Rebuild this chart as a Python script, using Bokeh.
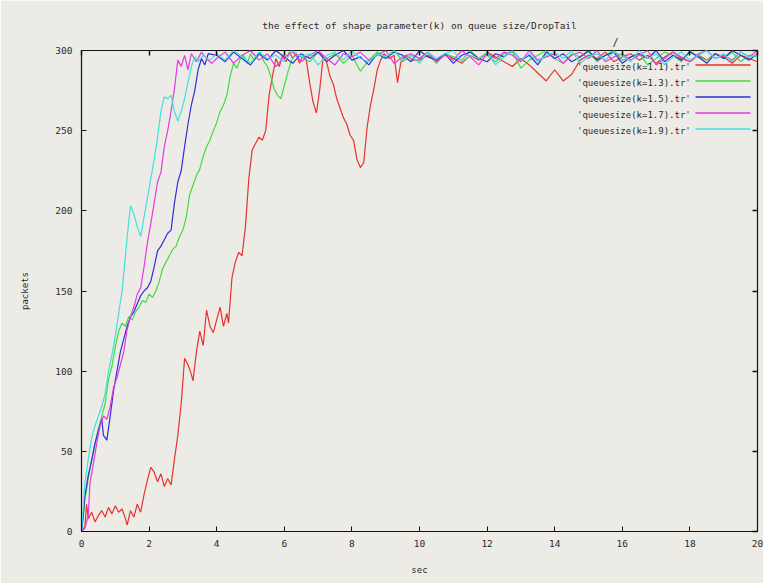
from bokeh.plotting import figure
from bokeh.models import (Range1d, FixedTicker, LinearAxis, Arrow, Legend, Title,
                          LegendItem, ColumnDataSource)
from bokeh.embed import file_html
from bokeh.resources import INLINE

TITLE = "the effect of shape parameter(k) on queue size/DropTail"
X_LABEL = "sec"
Y_LABEL = "packets"
X_TICKS = [0, 2, 4, 6, 8, 10, 12, 14, 16, 18, 20]
Y_TICKS = [0, 50, 100, 150, 200, 250, 300]
SERIES_LABELS = ["'queuesize(k=1.1).tr'", "'queuesize(k=1.3).tr'",
                 "'queuesize(k=1.5).tr'", "'queuesize(k=1.7).tr'",
                 "'queuesize(k=1.9).tr'"]
COLORS = ["#e8322d", "#3fdc3f", "#2f2fd8", "#e23ae2", "#3fe0e0"]

# ---- k=1.1 (red) ----
red_t = [0.0, 0.1, 0.15, 0.2, 0.3, 0.4, 0.5, 0.6, 0.7, 0.8,
         0.9, 1.0, 1.1, 1.2, 1.3, 1.35, 1.45, 1.55, 1.65, 1.75,
         1.85, 1.95, 2.05, 2.15, 2.25, 2.35, 2.45, 2.55, 2.65, 2.75,
         2.85, 2.95, 3.05, 3.15, 3.25, 3.3, 3.4, 3.5, 3.6, 3.7,
         3.8, 3.9, 4.0, 4.1, 4.2, 4.3, 4.35, 4.45, 4.55, 4.65,
         4.75, 4.85, 4.95, 5.05, 5.15, 5.25, 5.35, 5.45, 5.55, 5.65,
         5.75, 5.85, 5.95, 6.05, 6.15, 6.25, 6.35, 6.45, 6.55, 6.65,
         6.75, 6.85, 6.95, 7.05, 7.15, 7.25, 7.35, 7.45, 7.55, 7.65,
         7.75, 7.85, 7.95, 8.05, 8.15, 8.25, 8.35, 8.45, 8.55, 8.65,
         8.75, 8.85, 8.95, 9.1, 9.25, 9.35, 9.45, 9.6, 9.8]
red_y = [0, 3, 17, 8, 12, 6, 10, 13, 9, 15,
         11, 16, 12, 14, 8, 4, 13, 9, 17, 12,
         23, 32, 40, 37, 31, 36, 28, 33, 29, 45,
         60, 80, 108, 104, 98, 94, 112, 125, 116, 138,
         128, 124, 132, 140, 128, 136, 130, 158, 168, 174,
         172, 190, 220, 238, 242, 246, 244, 250, 272, 284,
         295, 290, 297, 293, 299, 295, 298, 292, 297, 294,
         280, 268, 261, 276, 296, 293, 284, 279, 270, 264,
         258, 254, 247, 244, 232, 227, 230, 252, 266, 276,
         288, 294, 298, 295, 297, 280, 293, 297, 294]
red_plateau_start = 10.0
red_plateau = [294, 297, 293, 298, 295, 292, 297, 294, 299, 296,
               293, 290, 295, 291, 286, 281, 288, 281, 285, 294,
               297, 295, 299, 293, 296, 298, 294, 297, 292, 296,
               299, 295, 293, 297, 294, 298, 296, 292, 297, 295,
               293]

# ---- k=1.3 (green) ----
green_t = [0.0, 0.05, 0.1, 0.2, 0.3, 0.4, 0.5, 0.6, 0.7, 0.8,
           0.9, 1.0, 1.1, 1.2, 1.3, 1.4, 1.5, 1.6, 1.7, 1.8,
           1.9, 2.0, 2.1, 2.2, 2.3, 2.4, 2.5, 2.6, 2.7, 2.8,
           2.9, 3.0, 3.1, 3.2, 3.3, 3.4, 3.5, 3.6, 3.7, 3.8,
           3.9, 4.0, 4.1, 4.2, 4.3, 4.4, 4.5, 4.6, 4.7, 4.8,
           4.9, 5.0, 5.1, 5.2, 5.3, 5.4, 5.5, 5.6, 5.7, 5.8,
           5.9, 6.0, 6.1, 6.2, 6.3]
green_y = [0, 8, 20, 33, 45, 55, 64, 72, 80, 95,
           103, 115, 125, 130, 128, 134, 132, 137, 140, 144,
           143, 148, 146, 150, 156, 164, 168, 172, 176, 178,
           184, 188, 196, 210, 216, 222, 226, 234, 240, 244,
           250, 255, 262, 266, 272, 284, 292, 289, 295, 297,
           292, 298, 294, 296, 299, 293, 290, 284, 276, 272,
           270, 278, 286, 293, 297]
green_plateau_start = 6.5
green_plateau = [296, 293, 299, 295, 298, 292, 297, 287, 294, 299,
                 296, 300, 293, 297, 295, 299, 292, 298, 296, 294,
                 300, 295, 297, 293, 298, 299, 289, 294, 297, 300,
                 295, 292, 298, 296, 299, 293, 297, 300, 294, 296,
                 298, 291, 295, 299, 297, 293, 300, 296, 294, 298,
                 295, 299, 293, 297, 296]

# ---- k=1.5 (blue) ----
blue_t = [0.0, 0.05, 0.1, 0.2, 0.3, 0.4, 0.5, 0.6, 0.65, 0.75,
          0.85, 0.95, 1.05, 1.15, 1.25, 1.35, 1.45, 1.55, 1.65, 1.75,
          1.85, 1.95, 2.05, 2.15, 2.25, 2.35, 2.45, 2.55, 2.65, 2.75,
          2.85, 2.95, 3.05, 3.15, 3.25, 3.35, 3.45, 3.55, 3.65, 3.75]
blue_y = [0, 10, 22, 35, 44, 55, 63, 70, 60, 57,
          72, 88, 100, 112, 120, 128, 134, 137, 142, 147,
          150, 152, 156, 165, 175, 178, 182, 186, 188, 205,
          218, 225, 240, 254, 266, 275, 288, 295, 291, 298]
blue_plateau_start = 4.0
blue_plateau = [297, 293, 299, 295, 291, 298, 294, 300, 296, 292,
                298, 295, 299, 293, 297, 300, 294, 296, 291, 298,
                295, 299, 297, 293, 300, 296, 294, 298, 292, 297,
                299, 295, 293, 298, 296, 300, 294, 297, 291, 299,
                295, 298, 293, 296, 300, 294, 297, 299, 292, 296,
                298, 295, 300, 293, 297, 294, 299, 296, 292, 298,
                295, 300, 297, 294, 298]

# ---- k=1.7 (magenta) ----
mag_t = [0.0, 0.1, 0.2, 0.25, 0.35, 0.45, 0.55, 0.65, 0.75, 0.85,
         0.95, 1.05, 1.15, 1.25, 1.35, 1.45, 1.55, 1.65, 1.75, 1.85,
         1.95, 2.05, 2.15, 2.25, 2.35, 2.45, 2.55, 2.65, 2.75, 2.85,
         2.95, 3.05, 3.15, 3.25, 3.4, 3.55, 3.7, 3.85]
mag_y = [0, 2, 10, 30, 42, 55, 66, 72, 70, 78,
         90, 96, 104, 112, 126, 134, 140, 148, 152, 165,
         180, 192, 205, 218, 224, 240, 250, 262, 276, 294,
         290, 297, 288, 298, 293, 299, 295, 292]
mag_plateau_start = 4.0
mag_plateau = [295, 299, 292, 297, 300, 294, 298, 290, 296, 299,
               293, 297, 300, 295, 291, 298, 296, 299, 294, 297,
               300, 292, 296, 298, 295, 299, 293, 297, 294, 300,
               296, 291, 298, 295, 299, 297, 293, 300, 294, 296,
               298, 292, 297, 299, 295, 300, 293, 296, 298, 294,
               297, 300, 291, 295, 299, 296, 293, 298, 300, 295,
               297, 294, 299, 296, 300]

# ---- k=1.9 (cyan) ----
cyan_t = [0.0, 0.05, 0.1, 0.2, 0.3, 0.4, 0.5, 0.6, 0.7, 0.8,
          0.9, 1.0, 1.1, 1.2, 1.3, 1.4, 1.45, 1.55, 1.65, 1.75,
          1.85, 1.95, 2.05, 2.15, 2.25, 2.35, 2.45, 2.55, 2.65, 2.75,
          2.85, 2.95, 3.05, 3.15, 3.25, 3.35, 3.45, 3.6, 3.8]
cyan_y = [0, 15, 30, 45, 58, 66, 72, 78, 86, 100,
          110, 122, 136, 150, 172, 194, 203, 198, 190, 184,
          196, 208, 220, 232, 246, 262, 271, 270, 272, 262,
          256, 262, 270, 280, 290, 296, 293, 297, 294]
cyan_plateau_start = 4.0
cyan_plateau = [298, 294, 300, 296, 292, 299, 295, 297, 293, 300,
                296, 298, 291, 297, 299, 294, 300, 295, 293, 298,
                296, 300, 294, 297, 292, 299, 295, 298, 300, 293,
                297, 295, 299, 291, 296, 300, 294, 298, 293, 297,
                299, 295, 300, 292, 296, 298, 294, 299, 297, 293,
                300, 295, 298, 291, 296, 299, 294, 297, 300, 295,
                298, 293, 299, 296, 297]

PLATEAU_STEP = 0.25


def build(t, y, start, plateau):
    pt = [start + PLATEAU_STEP * i for i in range(len(plateau))]
    assert len(t) == len(y)
    return list(t) + pt, list(y) + list(plateau)


series = [
    build(red_t, red_y, red_plateau_start, red_plateau),
    build(green_t, green_y, green_plateau_start, green_plateau),
    build(blue_t, blue_y, blue_plateau_start, blue_plateau),
    build(mag_t, mag_y, mag_plateau_start, mag_plateau),
    build(cyan_t, cyan_y, cyan_plateau_start, cyan_plateau),
]

BG = "#ecebe6"
FONT = "DejaVu Sans Mono"
TXT = "#2a2a2a"
INK = "#111111"
W, H = 763, 583
ML, MR, MT, MB = 81, 6, 50, 52
FRAME_H = H - MT - MB

p = figure(width=W, height=H, x_range=Range1d(X_TICKS[0], X_TICKS[-1]),
           y_range=Range1d(Y_TICKS[0], Y_TICKS[-1]),
           output_backend="svg", toolbar_location=None,
           min_border_left=ML, min_border_right=MR, min_border_top=MT, min_border_bottom=MB,
           background_fill_color=BG, border_fill_color=BG, title=TITLE)
p.title.align = "center"
p.title.text_font = FONT
p.title.text_font_size = "9.5px"
p.title.text_font_style = "normal"
p.title.text_color = TXT
p.title.standoff = 2
p.outline_line_color = INK
p.outline_line_width = 1.2
p.xgrid.visible = False
p.ygrid.visible = False

for ax, ticks in ((p.xaxis[0], X_TICKS), (p.yaxis[0], Y_TICKS)):
    ax.ticker = FixedTicker(ticks=ticks)
    ax.major_tick_in = 5
    ax.major_tick_out = 0
    ax.minor_tick_line_color = None
    ax.major_tick_line_color = INK
    ax.axis_line_color = INK
    ax.major_label_text_font = FONT
    ax.major_label_text_color = TXT
    ax.major_label_text_font_size = "9.5px"
    ax.axis_label_text_font = FONT
    ax.axis_label_text_font_size = "9px"
    ax.axis_label_text_font_style = "normal"
    ax.axis_label_text_color = TXT

p.xaxis[0].major_label_standoff = 8
p.yaxis[0].major_label_standoff = 9
p.xaxis[0].axis_label = X_LABEL
p.yaxis[0].axis_label = Y_LABEL
p.xaxis[0].axis_label_standoff = 15
p.yaxis[0].axis_label_standoff = 22

# mirrored tick marks on top and right (gnuplot style), no labels
for ticks, side in ((X_TICKS, "above"), (Y_TICKS, "right")):
    mirror = LinearAxis(ticker=FixedTicker(ticks=[], minor_ticks=ticks),
                        minor_tick_in=5, minor_tick_out=0, minor_tick_line_color=INK,
                        minor_tick_line_width=1.5,
                        major_tick_in=0, major_tick_out=0, axis_line_color=None,
                        major_label_standoff=0)
    p.add_layout(mirror, side)

# stray mark at the top of the reference image
p.add_layout(Title(text="/", align="left", offset=531, text_font=FONT,
                   text_font_size="10px", text_font_style="normal",
                   text_color=TXT, standoff=6), "above")

renderers = []
for (t, y), c in zip(series, COLORS):
    src = ColumnDataSource(data=dict(t=t, q=y))
    renderers.append(p.line("t", "q", source=src, line_color=c, line_width=1.2))

ROW_H = 16
legend = Legend(items=[LegendItem(label=lab, renderers=[r])
                       for lab, r in zip(SERIES_LABELS, renderers)],
                location=(496, FRAME_H - 9 - ROW_H * len(SERIES_LABELS)),
                glyph_width=0, glyph_height=ROW_H, label_height=ROW_H,
                label_standoff=0, padding=0, spacing=0, margin=0,
                border_line_alpha=0, background_fill_alpha=0,
                label_text_font=FONT, label_text_font_size="9px",
                label_text_color=TXT)
p.add_layout(legend)

# gnuplot-style key sample lines to the right of the text
for i, c in enumerate(COLORS):
    yy = FRAME_H - 15 - ROW_H * i
    p.add_layout(Arrow(end=None, x_start=614, x_end=669, y_start=yy + 0.5, y_end=yy + 0.5,
                       start_units="screen", end_units="screen",
                       line_color=c, line_width=1.5))

open("out.html", "w").write(file_html(p, INLINE))
